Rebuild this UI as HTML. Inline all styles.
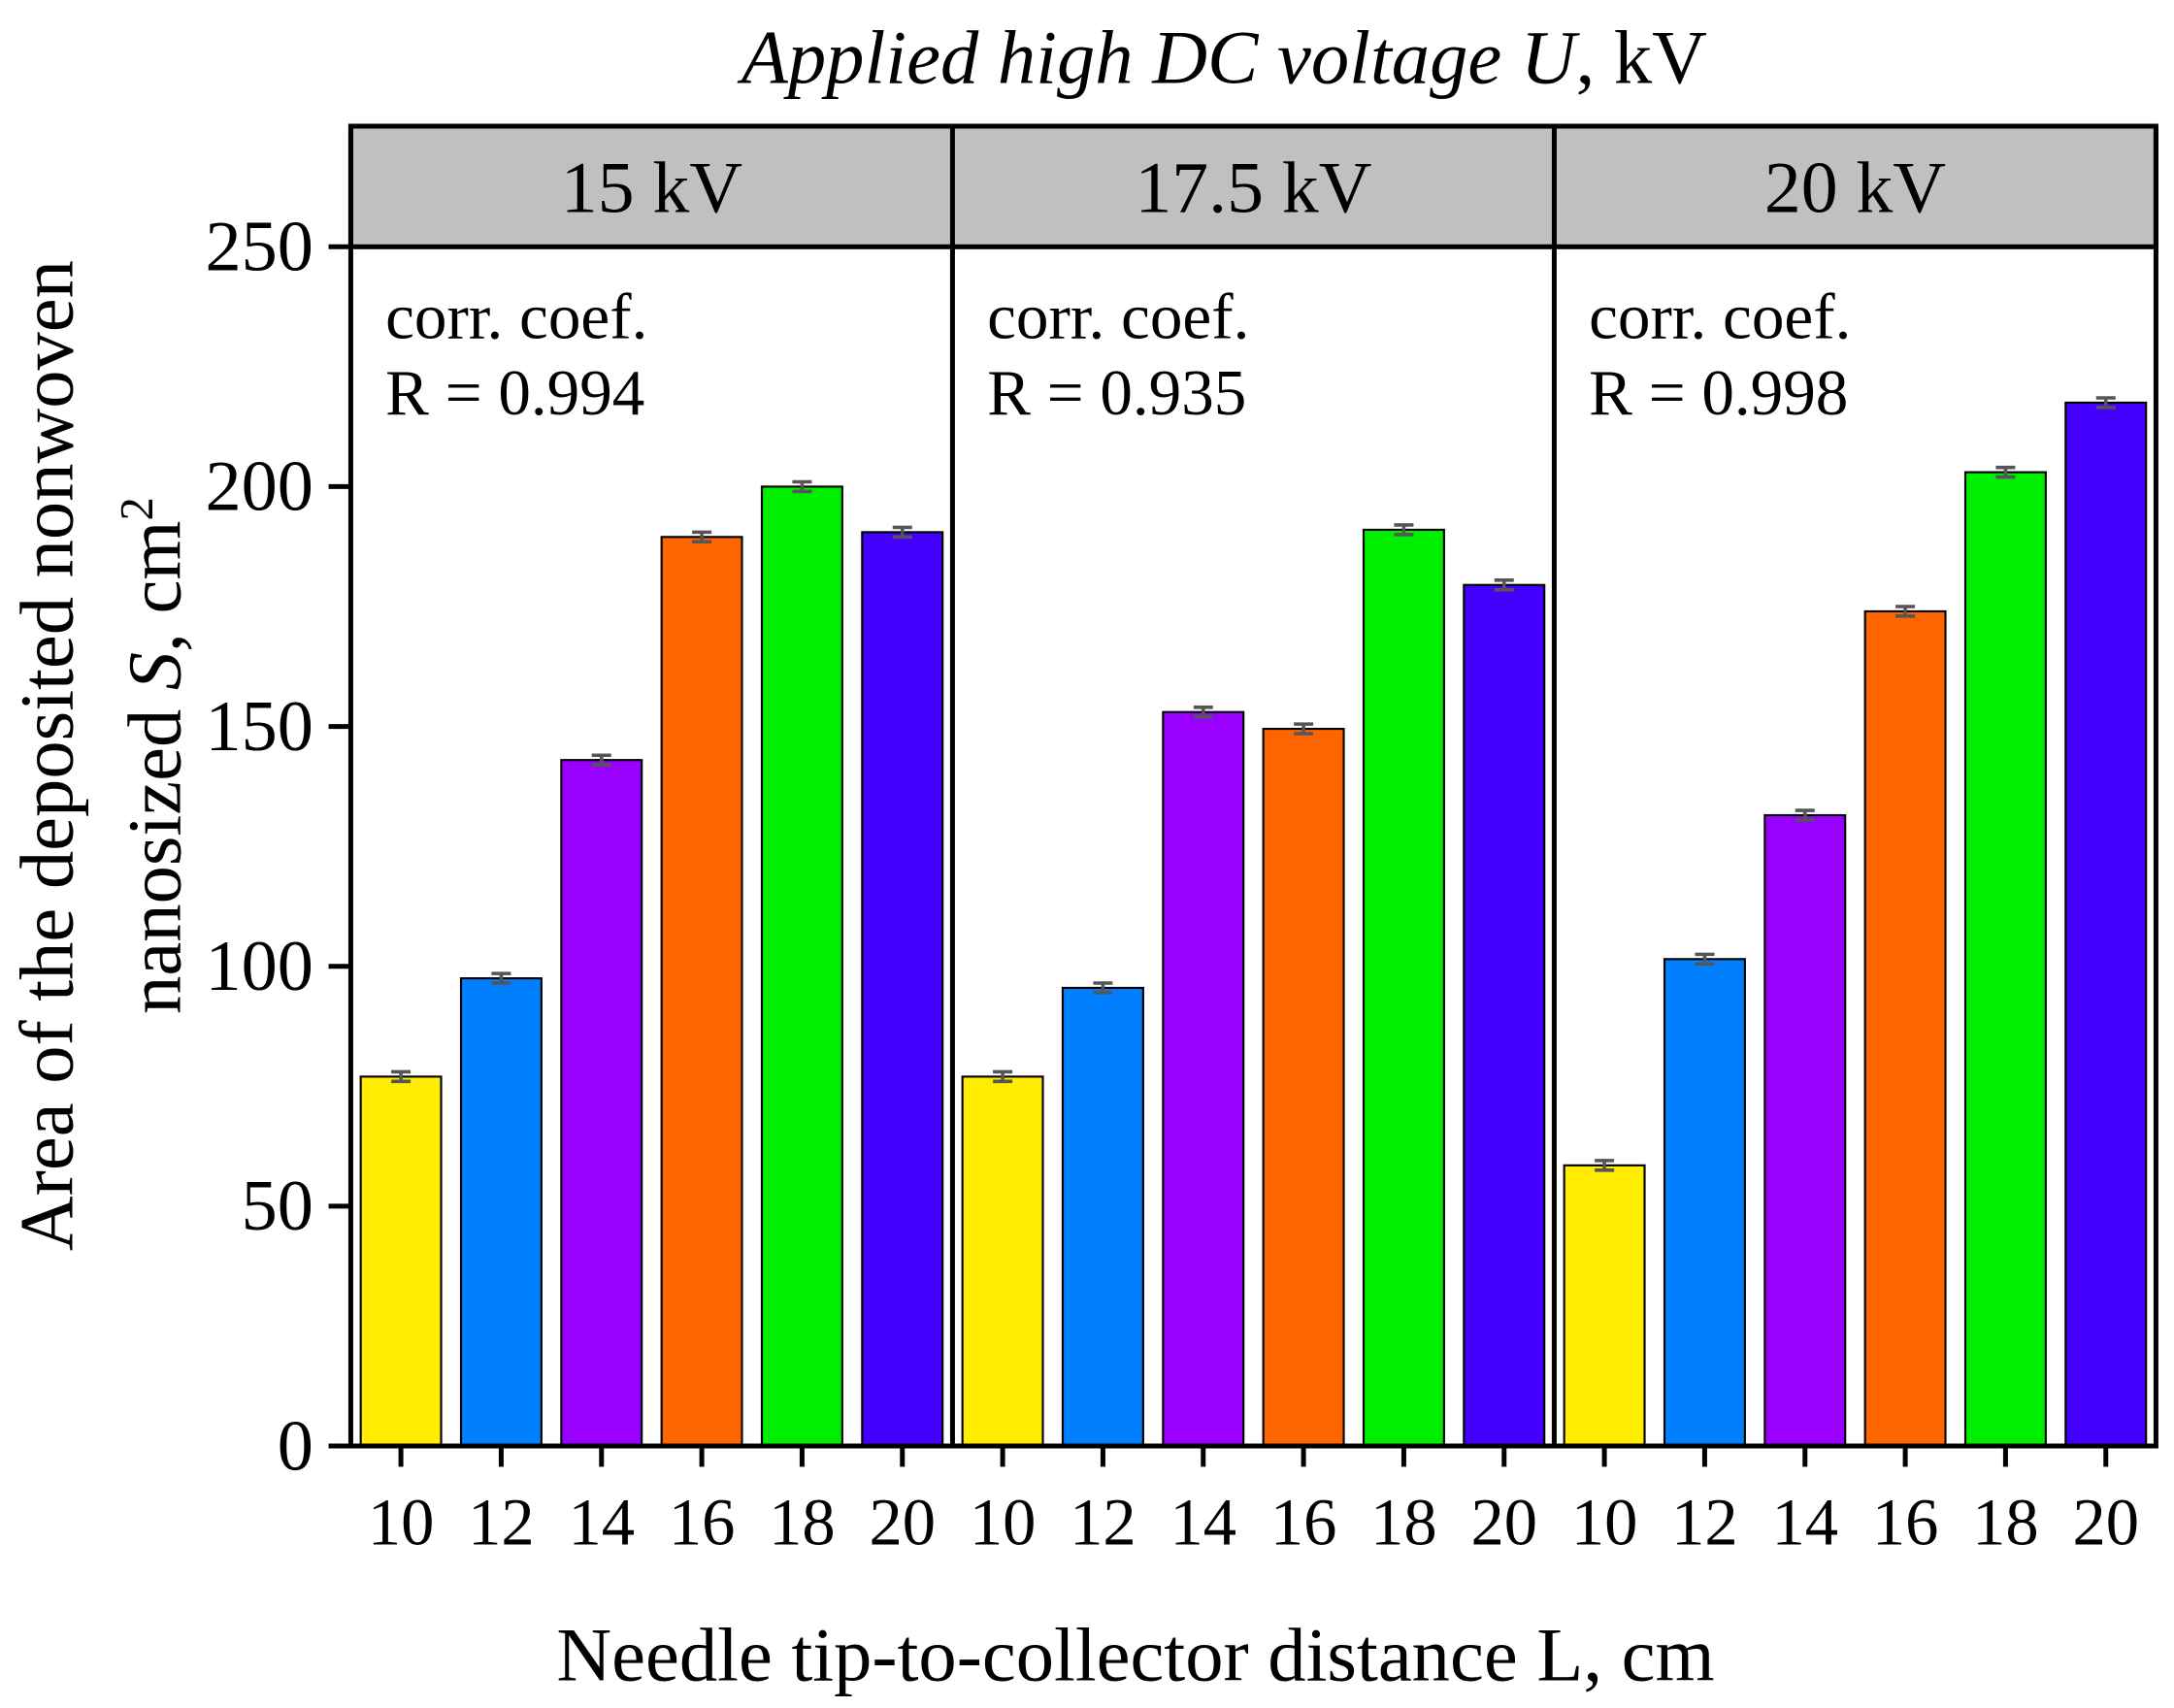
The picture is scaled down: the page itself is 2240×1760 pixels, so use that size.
<!DOCTYPE html>
<html><head><meta charset="utf-8"><style>body{margin:0;background:#fff}svg{display:block}text{font-family:"Liberation Serif",serif;fill:#000}</style></head>
<body>
<svg id="chart" width="2240" height="1760" viewBox="0 0 1568 1232" xmlns="http://www.w3.org/2000/svg">
<g id="g"></g>
</svg>
<script>
const panels = ["15 kV", "17.5 kV", "20 kV"];
const categories = ["10", "12", "14", "16", "18", "20"];
const values15 = [77, 97.5, 143, 189.5, 200, 190.5];
const values175 = [77, 95.5, 153, 149.5, 191, 179.5];
const values20 = [58.5, 101.5, 131.5, 174, 203, 217.5];
const errors = [1, 1, 1, 1, 1, 1];
const rValues = ["0.994", "0.935", "0.998"];
const yTicks = [0, 50, 100, 150, 200, 250];
const colors = ["#ffec00", "#0080ff", "#9900ff", "#ff6600", "#00ee00", "#4400ff"];
const series = [values15, values175, values20];

const NS = "http://www.w3.org/2000/svg";
const g = document.getElementById('g');
const L = 253, R = 1555, top0 = 91, hdrB = 178, bot = 1043;
const pw = (R - L) / 3, slot = pw / 6, bw = 58;
const y = v => bot - v / 250 * (bot - hdrB);
const px = (p, i) => L + p * pw + slot * (i + 0.5);
function mk(tag, attrs, text) {
  const e = document.createElementNS(NS, tag);
  for (const k in attrs) e.setAttribute(k, attrs[k]);
  if (text !== undefined) e.textContent = text;
  g.appendChild(e); return e;
}
let e = mk('rect', {x: L, y: top0, width: R - L, height: hdrB - top0, fill: '#c0c0c0', stroke: '#000', 'stroke-width': 3.5});


panels.forEach((p, k) => {
  const t = mk('text', {x: L + pw * (k + 0.5), y: 153, 'font-size': 53, 'text-anchor': 'middle'}, p);
  
  
  const c1 = mk('text', {x: L + pw * k + 25, y: 244, 'font-size': 47}, 'corr. coef.');
  
  
  const c2 = mk('text', {x: L + pw * k + 25, y: 299, 'font-size': 47}, 'R = ' + rValues[k]);
  
  
});
series.forEach((vals, p) => {
  vals.forEach((v, i) => {
    const cx = px(p, i);
    const b = mk('rect', {x: cx - bw / 2, y: y(v), width: bw, height: bot - y(v), fill: colors[i], stroke: '#000', 'stroke-width': 1.5});
    
    
    const ey1 = y(v + errors[i]), ey2 = y(v - errors[i]);
    const eb = mk('path', {d: `M${cx},${ey1}V${ey2}M${cx-7},${ey1}H${cx+7}M${cx-7},${ey2}H${cx+7}`, stroke: '#555', 'stroke-width': 2.5, fill: 'none'});
    
    
    const tk = mk('line', {x1: cx, x2: cx, y1: bot, y2: bot + 15, stroke: '#000', 'stroke-width': 3.5});
    
    
    const tl = mk('text', {x: cx, y: 1114, 'font-size': 48, 'text-anchor': 'middle'}, categories[i]);
    
    
  });
});
e = mk('path', {d: `M${L},${top0}V${bot}H${R}V${top0}M${L+pw},${top0}V${bot}M${L+2*pw},${top0}V${bot}`, stroke: '#000', 'stroke-width': 3.5, fill: 'none'});


yTicks.forEach(v => {
  const t = mk('line', {x1: L - 16, x2: L, y1: y(v), y2: y(v), stroke: '#000', 'stroke-width': 3.5});
  
  
  const l = mk('text', {x: 226, y: y(v) + 17, 'font-size': 52, 'text-anchor': 'end'}, String(v));
  
  
});
e = mk('text', {x: 883, y: 60, 'font-size': 55, 'text-anchor': 'middle'});
e.innerHTML = '<tspan font-style="italic">Applied high DC voltage U</tspan>, kV';


e = mk('text', {x: 819, y: 1212, 'font-size': 55, 'text-anchor': 'middle'}, 'Needle tip-to-collector distance L, cm');


e = mk('text', {x: 52, y: 545, 'font-size': 55, 'text-anchor': 'middle', transform: 'rotate(-90 52 545)'}, 'Area of the deposited nonwoven');


e = mk('text', {x: 130, y: 545, 'font-size': 55, 'text-anchor': 'middle', transform: 'rotate(-90 130 545)'});
e.innerHTML = 'nanosized <tspan font-style="italic">S</tspan>, cm<tspan font-size="34" dy="-20">2</tspan>';


</script>
</body></html>
